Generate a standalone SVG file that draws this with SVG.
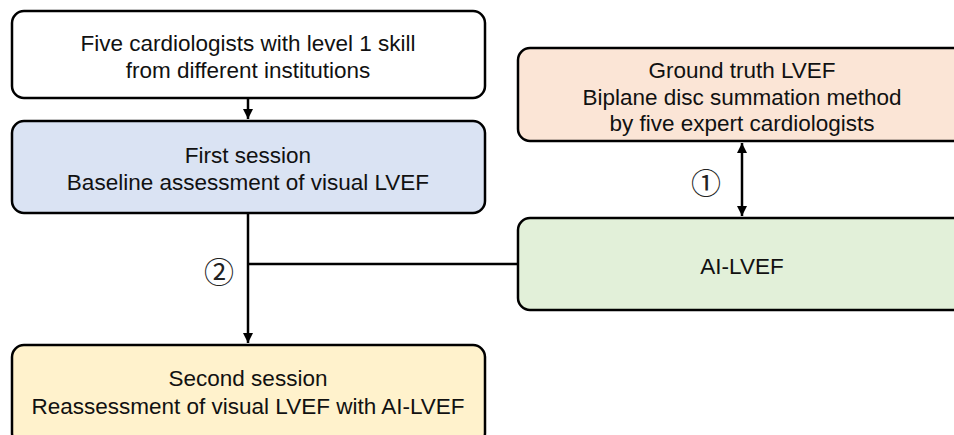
<svg xmlns="http://www.w3.org/2000/svg" width="954" height="435" viewBox="0 0 954 435">
<defs>
<style>
.box{stroke:#000;stroke-width:2.5}
.t{font-family:"Liberation Sans",Arial,sans-serif;font-size:22.5px;fill:#111;text-anchor:middle}
.n{font-family:"Noto Sans CJK JP","DejaVu Sans",sans-serif;font-size:30px;fill:#222;text-anchor:middle;dominant-baseline:central}
.c{stroke:#000;stroke-width:2.5;fill:none}
</style>
<marker id="ah" viewBox="0 0 10 10" refX="10" refY="5" markerWidth="4" markerHeight="4" orient="auto-start-reverse">
<path d="M0,0L10,5L0,10z" fill="#000"/>
</marker>
</defs>
<g id="connectors">
<line class="c" x1="248" y1="98" x2="248" y2="119" marker-end="url(#ah)"/>
<line class="c" x1="248" y1="213" x2="248" y2="343" marker-end="url(#ah)"/>
<line class="c" x1="248" y1="264" x2="518" y2="264"/>
<line class="c" x1="742" y1="143" x2="742" y2="216" marker-start="url(#ah)" marker-end="url(#ah)"/>
<text class="n" x="706" y="181">①</text>
<text class="n" x="219" y="270">②</text>
</g>
<g id="node-cardiologists">
<rect class="box" x="12" y="11" width="473" height="87" rx="12" fill="#fff"/>
<text class="t" x="248" y="51">Five cardiologists with level 1 skill</text>
<text class="t" x="248" y="78">from different institutions</text>
</g>
<g id="node-first">
<rect class="box" x="12" y="121" width="473" height="92" rx="12" fill="#DAE3F3"/>
<text class="t" x="248" y="163">First session</text>
<text class="t" x="248" y="190">Baseline assessment of visual LVEF</text>
</g>
<g id="node-ground">
<rect class="box" x="518" y="48" width="450" height="93" rx="12" fill="#FBE5D6"/>
<text class="t" x="742" y="78">Ground truth LVEF</text>
<text class="t" x="742" y="105">Biplane disc summation method</text>
<text class="t" x="742" y="131">by five expert cardiologists</text>
</g>
<g id="node-ai">
<rect class="box" x="518" y="218" width="450" height="92" rx="12" fill="#E2F0D9"/>
<text class="t" x="742" y="274">AI-LVEF</text>
</g>
<g id="node-second">
<rect class="box" x="12" y="345" width="473" height="100" rx="12" fill="#FFF2CC"/>
<text class="t" x="248" y="386">Second session</text>
<text class="t" x="248" y="414">Reassessment of visual LVEF with AI-LVEF</text>
</g>
</svg>
